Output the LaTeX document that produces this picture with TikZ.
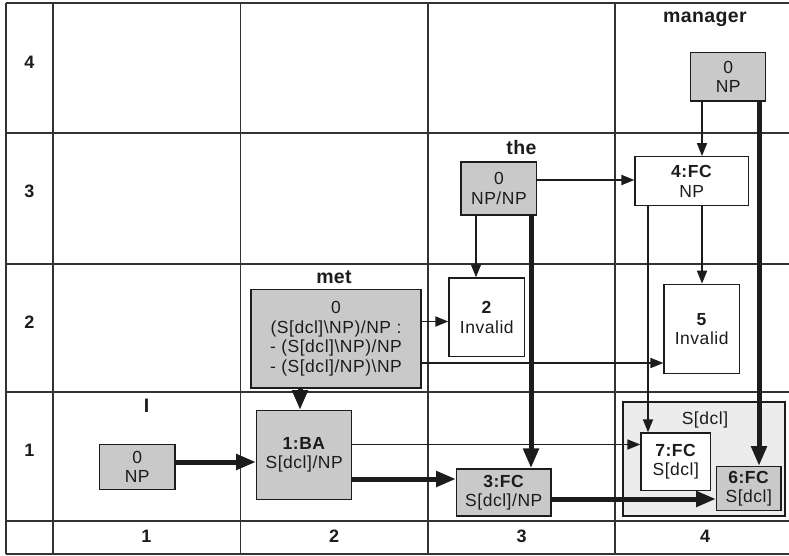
\documentclass[tikz,border=0pt]{standalone}
\usepackage{fontspec}
\setmainfont{Liberation Sans}
\usetikzlibrary{arrows.meta}
\definecolor{boxgray}{RGB}{200,201,200}
\definecolor{groupgray}{RGB}{235,236,235}
\definecolor{ink}{RGB}{28,28,28}
\definecolor{gridline}{RGB}{50,50,50}

\begin{document}
\begin{tikzpicture}[x=1pt,y=-1pt,
  cell/.style={font=\fontsize{18}{20}\selectfont\bfseries, text=ink},
  word/.style={font=\fontsize{19.5}{21}\selectfont\bfseries\addfontfeature{LetterSpace=2}, text=ink},
  entryfont/.style={font=\fontsize{17.5}{19.4}\selectfont\addfontfeature{LetterSpace=3}, text=ink},
  chartbox/.style={draw=ink, line width=1.3pt, inner sep=0pt, align=center, entryfont},
  graybox/.style={chartbox, fill=boxgray},
  whitebox/.style={chartbox, fill=white},
  groupbox/.style={draw=ink, line width=2.6pt, fill=groupgray, inner sep=0pt},
  thinarrow/.style={draw=ink, line width=1.8pt, -{Triangle[length=13pt,width=10pt]}},
  thickarrow/.style={draw=ink, line width=5pt, -{Triangle[length=20pt,width=15pt]}},
]
\useasboundingbox (0,0) rectangle (789,556);
\fill[white] (0,0) rectangle (789,556);

% chart grid
\foreach \yy in {3,133,264,392,521,554}
  \draw[gridline, line width=1.3pt] (6,\yy) -- (789,\yy);
\foreach \xx in {6,53,240.5,428,615}
  \draw[gridline, line width=1.3pt] (\xx,3) -- (\xx,554);

% row and column numbers
\node[cell] (r4) at (29.5,62) {4};
\node[cell] (r3) at (29.5,191) {3};
\node[cell] (r2) at (29.5,322) {2};
\node[cell] (r1) at (29.5,450) {1};
\node[cell] (c1) at (146.5,536) {1};
\node[cell] (c2) at (334,536) {2};
\node[cell] (c3) at (521.5,536) {3};
\node[cell] (c4) at (705,536) {4};

% words
\node[word] (wmanager) at (705,19) {manager};
\node[word] (wthe) at (521.5,148) {the};
\node[word] (wmet) at (334,277) {met};
\node[word] (wi) at (146.5,406) {I};

% grouped result cell
\node[groupbox, minimum width=162pt, minimum height=114pt] (grp) at (703.8,458.8) {};
\node[entryfont] (grplabel) at (705,420) {S[dcl]};

% chart entries
\node[graybox, minimum width=75pt, minimum height=48.7pt] (mgr) at (728.2,76.7) {0\\NP};
\node[graybox, minimum width=75.7pt, minimum height=53pt] (the) at (498.9,188.5) {0\\NP/NP};
\node[whitebox, minimum width=113.3pt, minimum height=49pt] (fc4) at (691.7,181.2) {\textbf{4:FC}\\NP};
\node[graybox, minimum width=170pt, minimum height=98.7pt] (met) at (336,338.7)
  {0\\(S[dcl]\textbackslash NP)/NP :\\- (S[dcl]\textbackslash NP)/NP\\- (S[dcl]/NP)\textbackslash NP};
\node[whitebox, minimum width=75.7pt, minimum height=78.7pt] (inv2) at (486.8,317.3) {\textbf{2}\\Invalid};
\node[whitebox, minimum width=75.3pt, minimum height=89pt] (inv5) at (701.7,328.8) {\textbf{5}\\Invalid};
\node[graybox, minimum width=75.7pt, minimum height=45pt] (i) at (137.2,466.8) {0\\NP};
\node[graybox, minimum width=95pt, minimum height=88.6pt] (ba1) at (304.2,455) {\textbf{1:BA}\\S[dcl]/NP};
\node[graybox, minimum width=94.3pt, minimum height=47pt] (fc3) at (503.8,492.5) {\textbf{3:FC}\\S[dcl]/NP};
\node[whitebox, minimum width=69.7pt, minimum height=57.7pt] (fc7) at (675.8,461.8) {\textbf{7:FC}\\S[dcl]};
\node[graybox, minimum width=64.3pt, minimum height=44pt] (fc6) at (748.8,488.7) {\textbf{6:FC}\\S[dcl]};

% derivation links
\draw[thinarrow] (the.east |- 0,180) -- (fc4.west |- 0,180);
\draw[thinarrow] (the.south -| 476,0) -- (inv2.north -| 476,0);
\draw[thinarrow] (met.east |- 0,321.5) -- (inv2.west |- 0,321.5);
\draw[thinarrow] (met.east |- 0,363) -- (inv5.west |- 0,363);
\draw[thinarrow] (mgr.south -| 702,0) -- (fc4.north -| 702,0);
\draw[thinarrow] (fc4.south -| 702,0) -- (inv5.north -| 702,0);
\draw[thinarrow] (fc4.south -| 648,0) -- (fc7.north -| 648,0);
\draw[thinarrow] (ba1.east |- 0,444.5) -- (fc7.west |- 0,444.5);
\draw[thickarrow] (i.east |- 0,462) -- (ba1.west |- 0,462);
\draw[thickarrow] (met.south -| 300,0) -- (ba1.north -| 300,0);
\draw[thickarrow] (ba1.east |- 0,479) -- (fc3.west |- 0,479);
\draw[thickarrow] (the.south -| 531,0) -- (fc3.north -| 531,0);
\draw[thickarrow] (mgr.south -| 759,0) -- (fc6.north -| 759,0);
\draw[thickarrow] (fc3.east |- 0,499) -- (fc6.west |- 0,499);
\end{tikzpicture}
\end{document}
